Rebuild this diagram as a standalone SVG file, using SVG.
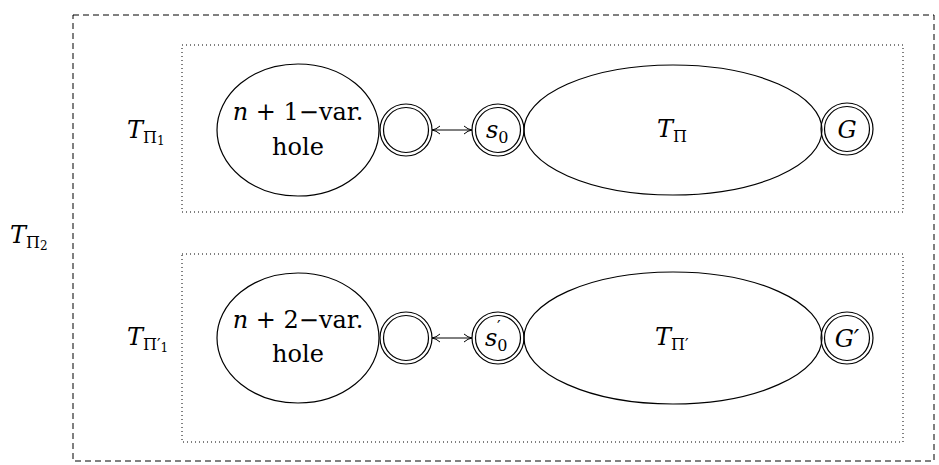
<svg xmlns="http://www.w3.org/2000/svg" width="939" height="465" viewBox="0 0 939 465">
<style>
.e{fill:none;stroke:#000;stroke-width:1.2}
.d{fill:none;stroke:#000;stroke-width:1}
text{font-family:"DejaVu Serif","Liberation Serif",serif;fill:#000}
.t{font-size:24px}
.i{font-style:italic}
.s{font-size:16px}
.ss{font-size:12px}
</style>
<defs>
<marker id="ah" viewBox="0 0 10 10" refX="9" refY="5" markerWidth="10" markerHeight="10" markerUnits="userSpaceOnUse" orient="auto-start-reverse">
<path d="M1,1 Q5,4.5 9,5 Q5,5.5 1,9" fill="none" stroke="#000" stroke-width="1"/>
</marker>
</defs>
<rect x="73" y="15" width="861" height="446" fill="none" stroke="#000" stroke-width="1" stroke-dasharray="6 4"/>
<g id="box1"><rect x="182" y="45" width="721" height="167" class="d" stroke-dasharray="1 3"/></g>
<g id="box2"><rect x="182" y="254" width="721" height="188" class="d" stroke-dasharray="1 3"/></g>
<text class="t" x="10" y="243"><tspan class="i">T</tspan><tspan class="s" dy="5">Π</tspan><tspan class="ss" dy="2">2</tspan></text>
<g id="label1"><text class="t" x="127" y="138"><tspan class="i">T</tspan><tspan class="s" dy="5">Π</tspan><tspan class="ss" dy="2">1</tspan></text></g>
<g id="label2"><text class="t" x="127" y="345"><tspan class="i">T</tspan><tspan class="s" dy="5">Π′</tspan><tspan class="ss" dy="2">1</tspan></text></g>
<g id="hole1"><ellipse cx="298" cy="130" rx="81" ry="66" class="e"/>
<text class="t" x="298" y="120" text-anchor="middle"><tspan class="i">n</tspan> + 1−var.</text>
<text class="t" x="298" y="155" text-anchor="middle">hole</text></g>
<g id="c1"><circle cx="406" cy="130" r="26" class="e"/><circle cx="406" cy="130" r="22.5" class="e"/></g>
<g id="s0"><circle cx="498" cy="130" r="26" class="e"/><circle cx="498" cy="130" r="22.5" class="e"/>
<text class="t" x="486" y="138"><tspan class="i">s</tspan><tspan class="s" dy="5">0</tspan></text></g>
<g id="tpi"><ellipse cx="673" cy="130" rx="149" ry="65" class="e"/>
<text class="t" x="657" y="137"><tspan class="i">T</tspan><tspan class="s" dy="5">Π</tspan></text></g>
<g id="G"><circle cx="847" cy="129" r="26" class="e"/><circle cx="847" cy="129" r="22.5" class="e"/>
<text class="t i" x="847" y="138" text-anchor="middle">G</text></g>
<g id="hole2"><ellipse cx="298" cy="338" rx="81" ry="65" class="e"/>
<text class="t" x="298" y="328" text-anchor="middle"><tspan class="i">n</tspan> + 2−var.</text>
<text class="t" x="298" y="362" text-anchor="middle">hole</text></g>
<g id="c2"><circle cx="406" cy="338" r="26" class="e"/><circle cx="406" cy="338" r="22.5" class="e"/></g>
<g id="s0p"><circle cx="498" cy="338" r="26" class="e"/><circle cx="498" cy="338" r="22.5" class="e"/>
<text class="t" x="485" y="346"><tspan class="i">s</tspan><tspan class="s" dy="5">0</tspan></text>
<text class="s" x="497" y="332">′</text></g>
<g id="tpip"><ellipse cx="673" cy="338" rx="149" ry="66" class="e"/>
<text class="t" x="655" y="345"><tspan class="i">T</tspan><tspan class="s" dy="5">Π′</tspan></text></g>
<g id="Gp"><circle cx="847" cy="338" r="26" class="e"/><circle cx="847" cy="338" r="22.5" class="e"/>
<text class="t i" x="847" y="347" text-anchor="middle">G′</text></g>
<g id="connectors">
<line x1="432" y1="130" x2="472" y2="130" stroke="#000" stroke-width="1" marker-start="url(#ah)" marker-end="url(#ah)"/>
<line x1="432" y1="338" x2="472" y2="338" stroke="#000" stroke-width="1" marker-start="url(#ah)" marker-end="url(#ah)"/>
</g>
</svg>
